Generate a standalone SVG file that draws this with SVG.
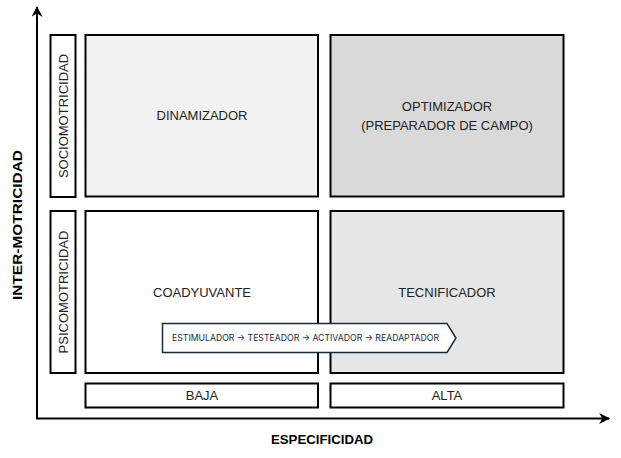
<svg xmlns="http://www.w3.org/2000/svg" width="621" height="458" viewBox="0 0 621 458">
<style>
.box{stroke:#000;stroke-width:2}
.lbl{font-family:"Liberation Sans",Arial,sans-serif;font-size:13px;fill:#222;text-anchor:middle}
.ax{font-family:"Liberation Sans",Arial,sans-serif;font-size:13px;font-weight:bold;fill:#000;text-anchor:middle}
.axis{stroke:#000;stroke-width:2;fill:none}
</style>
<defs>
<marker id="ah" viewBox="0 0 10 10" refX="9" refY="5" markerWidth="12" markerHeight="11" markerUnits="userSpaceOnUse" orient="auto">
<path d="M0,0 L10,5 L0,10 L3,5 Z" fill="#000"/>
</marker>
</defs>
<rect width="621" height="458" fill="#fff"/>
<g id="connectors">
<line class="axis" x1="37" y1="419" x2="37" y2="7" marker-end="url(#ah)"/>
<line class="axis" x1="36" y1="418.5" x2="609" y2="418.5" marker-end="url(#ah)"/>
</g>
<g id="axis-y-label"><text class="ax" transform="translate(22,225) rotate(-90)" textLength="150" lengthAdjust="spacingAndGlyphs">INTER-MOTRICIDAD</text></g>
<g id="axis-x-label"><text class="ax" x="322" y="444" textLength="102" lengthAdjust="spacingAndGlyphs">ESPECIFICIDAD</text></g>
<g id="socio"><rect class="box" x="50.5" y="35" width="25" height="162" fill="#fff"/><text class="lbl" transform="translate(68,116) rotate(-90)">SOCIOMOTRICIDAD</text></g>
<g id="psico"><rect class="box" x="50.5" y="211" width="25" height="162" fill="#fff"/><text class="lbl" transform="translate(68,292) rotate(-90)">PSICOMOTRICIDAD</text></g>
<g id="dinamizador"><rect class="box" x="85.5" y="35" width="232.5" height="161.5" fill="#f2f2f2"/><text class="lbl" x="202" y="120">DINAMIZADOR</text></g>
<g id="optimizador"><rect class="box" x="330.5" y="35" width="233" height="161.5" fill="#d9d9d9"/><text class="lbl" x="447" y="111">OPTIMIZADOR</text><text class="lbl" x="447" y="130">(PREPARADOR DE CAMPO)</text></g>
<g id="coadyuvante"><rect class="box" x="85.5" y="211" width="232.5" height="162" fill="#fff"/><text class="lbl" x="202" y="297">COADYUVANTE</text></g>
<g id="tecnificador"><rect class="box" x="330.5" y="211" width="233" height="162" fill="#e6e6e6"/><text class="lbl" x="447" y="297">TECNIFICADOR</text></g>
<g id="baja"><rect class="box" x="85.5" y="383.5" width="232.5" height="24" fill="#fff"/><text class="lbl" x="202" y="400">BAJA</text></g>
<g id="alta"><rect class="box" x="330.5" y="383.5" width="233" height="24" fill="#fff"/><text class="lbl" x="447" y="400">ALTA</text></g>
<g id="banner"><path d="M162.5,323.5 L447,323.5 L456,338 L447,352.5 L162.5,352.5 Z" fill="#fff" stroke="#1c2b3a" stroke-width="1.5"/><text x="172" y="341" font-family="Inter,'DejaVu Sans',sans-serif" font-size="9" fill="#1c2b3a" textLength="267" lengthAdjust="spacingAndGlyphs">ESTIMULADOR → TESTEADOR → ACTIVADOR → READAPTADOR</text></g>
</svg>
